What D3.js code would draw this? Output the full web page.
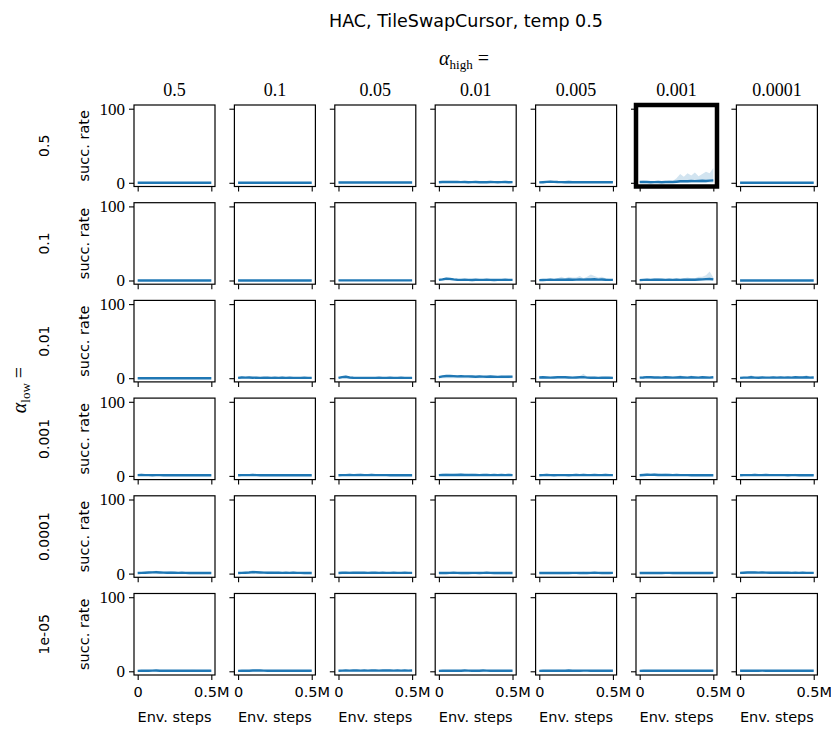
<!DOCTYPE html>
<html>
<head>
<meta charset="utf-8">
<script src="https://cdn.jsdelivr.net/npm/d3@7"></script>
<style>
  body { margin: 0; background: #fff; }
  text { fill: #000; }
</style>
</head>
<body>
<div id="chart"></div>
<script>
// grid labels
const alphaHigh = ["0.5", "0.1", "0.05", "0.01", "0.005", "0.001", "0.0001"];
const alphaLow = ["0.5", "0.1", "0.01", "0.001", "0.0001", "1e-05"];
const highlight = { row: 0, col: 5 };

// env steps (millions)
const stepsM = [0, 0.025, 0.05, 0.075, 0.1, 0.125, 0.15, 0.175, 0.2, 0.225, 0.25,
  0.275, 0.3, 0.325, 0.35, 0.375, 0.4, 0.425, 0.45, 0.475, 0.5];

const yTicks = [0, 100];
const xTicks = [0, 0.5];
const xTickLabels = ["0", "0.5M"];

// success rate, mean and upper band per panel (one array per alpha_low row)
const mean05 = [
  [0,0,0,0,0,0,0,0,0,0,0,0,0,0,0,0,0,0,0,0,0],
  [0,0,0,0,0,0,0,0,0,0,0,0,0,0,0,0,0,0,0,0,0],
  [0.3,0.4,0.3,0.3,0.4,0.3,0.3,0.3,0.4,0.3,0.3,0.3,0.3,0.4,0.3,0.3,0.3,0.3,0.3,0.3,0.3],
  [0.8,1,1.2,1.1,1,1,0.9,1,0.8,0.9,1,0.8,0.9,0.8,1,0.9,0.8,0.9,1,0.8,0.9],
  [0.5,0.8,1.2,1.5,1.3,1,0.9,0.8,1,0.8,0.9,0.8,0.8,0.9,0.8,0.8,0.9,0.8,0.8,0.9,0.8],
  [1,1.2,1,0.8,0.9,1,0.8,1,1.2,1,1.5,2,2.2,2,2.5,2.3,2.5,2.8,2.5,3,3.2],
  [0,0,0,0,0,0,0,0,0,0,0,0,0,0,0,0,0,0,0,0,0]
];
const up05 = [
  [0.3,0.3,0.3,0.3,0.3,0.3,0.3,0.3,0.3,0.3,0.3,0.3,0.3,0.3,0.3,0.3,0.3,0.3,0.3,0.3,0.3],
  [0.3,0.3,0.3,0.3,0.3,0.3,0.3,0.3,0.3,0.3,0.3,0.3,0.3,0.3,0.3,0.3,0.3,0.3,0.3,0.3,0.3],
  [0.8,1,0.8,0.9,1,0.8,0.8,0.9,1,0.8,0.8,0.9,0.8,1,0.8,0.8,0.9,0.8,0.8,0.9,0.8],
  [1.6,2,2.4,2,1.8,2,1.7,2,1.6,1.8,2,1.6,1.8,1.6,2,1.8,1.6,1.7,2,1.6,1.7],
  [1.2,1.6,2.2,2.8,2.4,2,1.7,1.6,1.9,1.6,1.7,1.6,1.6,1.7,1.6,1.6,1.7,1.6,1.6,1.7,1.6],
  [2,3,2.5,2,2,2.5,2,2,3,2.5,6,12,8,13,10,14,9,12,15,13,20],
  [0.3,0.3,0.3,0.3,0.3,0.3,0.3,0.3,0.3,0.3,0.3,0.3,0.3,0.3,0.3,0.3,0.3,0.3,0.3,0.3,0.3]
];

const mean01 = [
  [0,0,0,0,0,0,0,0,0,0,0,0,0,0,0,0,0,0,0,0,0],
  [0,0,0,0,0,0,0,0,0,0,0,0,0,0,0,0,0,0,0,0,0],
  [0.2,0.2,0.2,0.2,0.2,0.2,0.2,0.2,0.2,0.2,0.2,0.2,0.2,0.2,0.2,0.2,0.2,0.2,0.2,0.2,0.2],
  [0.8,1.5,2.5,2.2,1.5,1,0.8,1,0.8,0.7,1,0.8,0.8,1,0.8,0.7,0.9,0.8,1,0.8,0.8],
  [0.5,0.6,0.8,1,0.8,1,1.2,1,1.3,1,1.2,1.5,1.2,1.3,1.4,1.6,1.2,1.4,1,0.9,0.8],
  [0.5,0.8,1,0.8,1,1.2,1,0.8,1,0.9,1,0.8,1,1.2,1,1.1,1.3,1.5,1.8,2,1.5],
  [0,0,0,0,0,0,0,0,0,0,0,0,0,0,0,0,0,0,0,0,0]
];
const up01 = [
  [0.3,0.3,0.3,0.3,0.3,0.3,0.3,0.3,0.3,0.3,0.3,0.3,0.3,0.3,0.3,0.3,0.3,0.3,0.3,0.3,0.3],
  [0.3,0.3,0.3,0.3,0.3,0.3,0.3,0.3,0.3,0.3,0.3,0.3,0.3,0.3,0.3,0.3,0.3,0.3,0.3,0.3,0.3],
  [0.6,0.6,0.6,0.6,0.6,0.6,0.6,0.6,0.6,0.6,0.6,0.6,0.6,0.6,0.6,0.6,0.6,0.6,0.6,0.6,0.6],
  [1.5,2.8,4,3.5,2.5,2,1.6,2,1.6,1.4,2,1.6,1.6,2,1.6,1.4,1.8,1.6,2,1.6,1.6],
  [1,1.5,2,3,2,3,5,3,5,4,4,6,3,5,8,6,4,5,3,2,2],
  [1,2,2,2,3,3,2,2,2,2,3,2,3,4,3,3,5,5,7,12,4],
  [0.3,0.3,0.3,0.3,0.3,0.3,0.3,0.3,0.3,0.3,0.3,0.3,0.3,0.3,0.3,0.3,0.3,0.3,0.3,0.3,0.3]
];

const mean001 = [
  [0,0,0,0,0,0,0,0,0,0,0,0,0,0,0,0,0,0,0,0,0],
  [0.5,1,0.8,1,0.6,0.8,0.5,0.6,0.8,0.5,0.6,0.5,0.8,0.5,0.6,0.5,0.4,0.5,0.6,0.5,0.5],
  [0.5,1.5,2,1,0.6,0.5,0.5,0.4,0.5,0.5,0.4,0.5,0.4,0.4,0.5,0.4,0.4,0.5,0.4,0.4,0.4],
  [1.5,2.5,3,3,2.8,2.5,2.6,2.4,2.5,2.2,2,2.3,2.1,2,2.2,2,1.8,2,1.9,2,2.1],
  [1,1.2,1,0.8,1,1.2,1.5,1.2,1,0.8,1,1.2,1.5,0.8,0.6,0.8,0.5,0.6,0.8,0.6,0.5],
  [0.8,1,1.5,1.2,1,1,0.8,1.2,1,0.8,1,1.3,1,0.8,1.2,1,0.8,1.3,1,0.8,1.2],
  [0.5,0.8,0.8,1.2,0.8,0.6,1,0.8,0.8,1,0.8,1,0.8,1,0.8,1.2,0.9,1,1.2,0.8,1]
];
const up001 = [
  [0.3,0.3,0.3,0.3,0.3,0.3,0.3,0.3,0.3,0.3,0.3,0.3,0.3,0.3,0.3,0.3,0.3,0.3,0.3,0.3,0.3],
  [1.2,2.5,1.8,2.2,1.4,1.8,1.2,1.4,1.8,1.2,1.4,1.2,2.5,1.2,1.4,1.2,1,1.2,1.4,1.2,1.2],
  [1,3,3.5,2,1.3,1,1,0.9,1,1,0.9,1,0.9,0.9,1,0.9,0.9,1,0.9,0.9,0.9],
  [2.5,3.5,4,4,4.2,3.5,3.6,3.4,4,3.2,3,3.5,3.1,3,3.4,3,2.8,3.4,2.9,3.5,3.2],
  [2,2,2,1.5,2,2.5,3,2.5,2,2,2,3,6,2,1.5,2,1.5,1.5,2,1.5,1],
  [1.8,2.5,3,2.4,2,2,1.8,3,2.4,1.8,2,4,2.2,1.8,3.5,2,1.8,3,2.2,1.8,2.5],
  [1.2,1.8,1.6,4,1.8,1.4,2,1.8,1.6,2.5,1.8,2.2,1.8,2.4,1.8,3,2,2.4,4,1.8,2.2]
];

const mean0001 = [
  [1,1.2,1,1.1,0.9,1,1,0.9,1,0.8,0.9,1,0.8,0.9,0.8,0.8,0.9,0.8,0.8,0.8,0.8],
  [0.8,1,1.1,1,1.2,1,0.9,1,0.9,0.8,0.9,1,0.8,0.9,0.8,0.8,0.9,0.8,0.9,0.8,0.8],
  [0.8,1,1,1.2,1,1.1,1.3,1.1,1,1.2,1,1.1,1,1,0.9,1,0.9,0.8,0.9,0.8,0.9],
  [1,1.3,1.2,1.4,1.3,1.2,1.5,1.3,1.2,1.3,1.2,1.1,1.2,1.3,1.1,1.2,1.1,1.2,1.1,1.2,1.1],
  [0.8,1,1.2,1,0.9,1,1.1,1,0.9,1,1.2,1,1.3,1.1,1,1.2,1,1.1,1.2,1,1.1],
  [0.8,1.2,1.5,1.4,1.6,1.3,1.2,1.4,1.2,1.1,1.2,1,1.1,1,0.9,1,0.9,1,0.9,0.9,0.9],
  [0.8,1,1.1,1,1.2,1,1.1,1.2,1,1.1,1,1.1,1,0.9,1,1.1,0.9,1,0.9,1,0.9]
];
const up0001 = [
  [2,3,2.2,2.4,2,2.2,2,2,2.4,1.8,2,2.2,1.8,2,1.8,1.8,2,1.8,1.8,1.8,1.8],
  [1.8,2.4,2.6,2.2,2.8,2.2,2,2.4,2,1.8,2,2.2,1.8,2,1.8,1.8,2,1.8,2,1.8,1.8],
  [1.8,2.2,2.2,2.8,2.2,3.5,3,2.5,2.2,2.8,2.2,2.4,2.2,2.2,2,2.2,2,1.8,2,1.8,2],
  [2.2,2.8,3.5,3,2.8,3.5,3.4,2.8,2.6,3,2.6,2.4,2.6,2.8,2.4,2.6,2.4,2.6,2.4,2.8,2.4],
  [1.8,2.2,2.8,2.2,2,2.2,2.4,2.2,2,2.2,2.8,2.2,3,2.4,2.2,2.6,2.2,2.4,3,2.2,2.4],
  [1.8,2.6,3.5,3.2,3.6,3,2.6,3.2,2.6,2.4,2.6,2.2,2.4,2.2,2,2.2,2,2.2,2,2,2],
  [1.8,2.2,2.4,2.2,2.8,2.2,2.4,2.6,2.2,2.4,2.2,2.4,2.2,2,2.2,2.8,2,2.2,2,2.6,2]
];

const mean00001 = [
  [0.8,1,1.2,1.4,1.6,1.8,1.5,1.3,1.2,1.1,1.3,1,1.1,1,0.9,1,0.9,1,0.9,1,0.9],
  [0.8,1,1.2,1.5,2,1.8,1.5,1.3,1.2,1.3,1.1,1.2,1,1.1,1,1.2,1,1,0.9,1,0.9],
  [0.9,1.1,1.2,1,1.3,1.2,1.1,1.2,1,1.1,1.2,1,1.1,1,1,1.1,1,1,1.1,1,1],
  [0.8,1,0.9,1,1.1,1,0.9,1,0.9,1,1,0.9,1,1.1,1,0.9,1,0.9,1,0.9,0.9],
  [0.8,0.9,1,0.9,0.9,1,0.9,1,0.9,1,1,0.9,1,0.9,1,1.1,1,0.9,1,0.9,1],
  [0.8,1,0.9,1,0.9,1,0.9,1,1,0.9,1,0.9,1,0.9,1,0.9,1,0.9,1,0.9,1],
  [1,1.2,1.4,1.6,1.5,1.3,1.4,1.3,1.2,1.1,1.3,1.2,1.1,1.2,1,1.1,1,1.1,1,1,1]
];
const up00001 = [
  [1.8,2.2,2.6,2.8,3.2,4,3,2.6,2.4,3.5,2.6,2,2.2,2,1.8,2,1.8,2,1.8,2,1.8],
  [1.8,2.2,2.6,3,4.5,3.6,3,2.6,2.4,2.6,2.2,2.4,2,2.2,2,3,2,2,1.8,2,1.8],
  [1.8,2.2,2.4,2.8,2.6,2.4,2.2,2.4,2,2.2,2.4,2,2.2,2,2,2.2,2,2,2.2,2,2],
  [1.6,2,1.8,2,2.2,2,1.8,2,1.8,2,2,1.8,2.2,2.6,2,1.8,2,1.8,2,1.8,1.8],
  [1.6,1.8,2,1.8,1.8,2,1.8,2,1.8,2,2.2,1.8,2.4,1.8,2.2,2.6,2.2,1.8,2,1.8,2],
  [1.6,2,1.8,2,1.8,2.2,1.8,2,2,1.8,2,1.8,2,1.8,2,1.8,2,1.8,2,1.8,2],
  [2,2.4,2.8,3.2,3,2.6,2.8,2.6,2.4,2.2,2.6,2.4,2.2,2.4,2,2.2,2,2.4,2,2,2]
];

const mean1e5 = [
  [0.6,0.8,0.9,0.8,0.9,1,0.8,0.9,0.8,0.7,0.8,0.7,0.8,0.7,0.8,0.9,0.8,0.7,0.8,0.7,0.8],
  [0.6,0.8,0.9,0.8,1,1.1,1,0.9,0.8,0.9,0.8,0.9,0.8,0.9,0.8,0.8,0.9,0.8,0.8,0.9,0.8],
  [0.8,0.9,1,0.9,1.1,1,0.9,1,0.9,1,1,0.9,1,1.1,1,0.9,1,0.9,1,0.9,1],
  [0.6,0.7,0.8,0.7,0.8,0.9,0.8,1,0.9,0.8,0.9,0.8,1,0.9,0.8,0.9,0.8,0.9,0.8,0.8,0.8],
  [0.6,0.7,0.8,0.7,0.8,0.8,0.9,0.8,1,0.8,0.9,0.8,0.9,0.9,0.8,0.9,0.8,0.9,0.8,0.9,0.8],
  [0.6,0.8,0.7,0.8,0.7,0.8,0.9,0.8,0.9,0.8,0.9,0.8,0.7,0.8,0.7,0.8,0.7,0.8,0.7,0.8,0.7],
  [0.7,0.8,0.9,0.8,0.9,0.8,0.9,0.8,0.9,0.8,0.9,0.8,0.9,0.8,0.9,0.8,0.9,0.8,0.9,0.8,0.8]
];
const up1e5 = [
  [1.4,1.6,1.8,1.6,2.2,2,1.6,1.8,1.6,1.4,1.6,1.4,1.6,1.4,1.6,2,1.6,1.4,1.6,1.4,1.6],
  [1.4,1.6,1.8,1.6,2.2,2.4,2,1.8,1.6,1.8,1.6,1.8,1.6,1.8,1.6,1.6,1.8,1.6,1.6,1.8,1.6],
  [1.6,1.8,2,1.8,2.2,2,1.8,2,1.8,2,2,1.8,2,2.4,2,1.8,2,1.8,2,1.8,2],
  [1.2,1.4,1.6,1.4,1.6,1.8,1.6,2,1.8,1.6,1.8,1.6,2,1.8,1.6,1.8,1.6,1.8,1.6,1.6,1.6],
  [1.2,1.4,1.6,1.4,1.6,1.6,1.8,1.6,2,1.6,1.8,1.6,1.8,1.8,1.6,1.8,1.6,1.8,1.6,1.8,1.6],
  [1.2,1.6,1.4,1.6,1.4,1.6,1.8,1.6,1.8,1.6,1.8,1.6,1.4,1.6,1.4,1.6,1.4,1.6,1.4,1.6,1.4],
  [1.4,1.6,1.8,1.6,1.8,1.6,1.8,1.6,1.8,1.6,1.8,1.6,1.8,1.6,1.8,1.6,1.8,1.6,1.8,1.6,1.6]
];

const meanRows = [mean05, mean01, mean001, mean0001, mean00001, mean1e5];
const upRows = [up05, up01, up001, up0001, up00001, up1e5];

const width = 831;
const height = 729;
const left0 = 134, top0 = 105;
const pw = 81, ph = 81.5;
const dx = 100.4, dy = 97.7;
const blue = "#1f77b4";
const serif = "'Liberation Serif', 'DejaVu Serif', serif";
const sans = "'DejaVu Sans', sans-serif";

const svg = d3.select("#chart")
  .append("svg")
  .attr("width", width)
  .attr("height", height);

const x = d3.scaleLinear().domain([-0.025, 0.525]).range([0, pw]);
const y = d3.scaleLinear().domain([-5, 105]).range([ph, 0]);

const line = d3.line()
  .x((d, i) => x(stepsM[i]))
  .y(d => y(d));

const area = d3.area()
  .x((d, i) => x(stepsM[i]))
  .y0(y(0))
  .y1(d => y(d));

// title
svg.append("text")
  .attr("x", 466)
  .attr("y", 27)
  .attr("text-anchor", "middle")
  .attr("font-family", sans)
  .attr("font-size", "17.5px")
  .text("HAC, TileSwapCursor, temp 0.5");

// alpha_high =
const ah = svg.append("text")
  .attr("x", 464)
  .attr("y", 65)
  .attr("text-anchor", "middle")
  .attr("font-family", serif)
  .attr("font-size", "20px");
ah.append("tspan").attr("font-style", "italic").text("α");
ah.append("tspan").attr("font-size", "13px").attr("dy", 4).text("high");
ah.append("tspan").attr("dy", -4).text(" =");

// alpha_low =
const al = svg.append("text")
  .attr("transform", `translate(26, 390) rotate(-90)`)
  .attr("text-anchor", "middle")
  .attr("font-family", serif)
  .attr("font-size", "20px");
al.append("tspan").attr("font-style", "italic").text("α");
al.append("tspan").attr("font-size", "13px").attr("dy", 4).text("low");
al.append("tspan").attr("dy", -4).text(" =");

alphaLow.forEach((lowLabel, r) => {
  alphaHigh.forEach((highLabel, c) => {
    const g = svg.append("g")
      .attr("transform", `translate(${left0 + c * dx}, ${top0 + r * dy})`);

    g.append("path")
      .datum(upRows[r][c])
      .attr("d", area)
      .attr("fill", blue)
      .attr("fill-opacity", 0.2);

    g.append("path")
      .datum(meanRows[r][c])
      .attr("d", line)
      .attr("fill", "none")
      .attr("stroke", blue)
      .attr("stroke-width", 2.4);

    // y axis
    const ya = g.append("g")
      .call(d3.axisLeft(y).tickValues(yTicks).tickSize(5)
        .tickFormat(c === 0 ? d3.format("d") : () => ""));
    ya.select(".domain").remove();
    ya.selectAll("line").attr("stroke-width", 1.1);
    ya.selectAll("text")
      .attr("font-family", serif)
      .attr("font-size", "17px")
      .attr("x", -9);

    // x axis
    const xa = g.append("g")
      .attr("transform", `translate(0, ${ph})`)
      .call(d3.axisBottom(x).tickValues(xTicks).tickSize(5)
        .tickFormat(r === alphaLow.length - 1 ? (d, i) => xTickLabels[i] : () => ""));
    xa.select(".domain").remove();
    xa.selectAll("line").attr("stroke-width", 1.1);
    xa.selectAll("text")
      .attr("font-family", sans)
      .attr("font-size", "14.5px")
      .attr("y", 12);

    const isHi = r === highlight.row && c === highlight.col;
    g.append("rect")
      .attr("width", pw)
      .attr("height", ph)
      .attr("fill", "none")
      .attr("stroke", "#000")
      .attr("stroke-width", isHi ? 4.5 : 1.2);

    if (r === 0) {
      g.append("text")
        .attr("x", pw / 2)
        .attr("y", -9)
        .attr("text-anchor", "middle")
        .attr("font-family", serif)
        .attr("font-size", "18px")
        .text(highLabel);
    }
    if (r === alphaLow.length - 1) {
      g.append("text")
        .attr("x", pw / 2)
        .attr("y", ph + 47)
        .attr("text-anchor", "middle")
        .attr("font-family", sans)
        .attr("font-size", "14.5px")
        .text("Env. steps");
    }
    if (c === 0) {
      g.append("text")
        .attr("transform", `translate(-45, ${ph / 2}) rotate(-90)`)
        .attr("text-anchor", "middle")
        .attr("font-family", sans)
        .attr("font-size", "14.5px")
        .text("succ. rate");
      g.append("text")
        .attr("transform", `translate(-85, ${ph / 2}) rotate(-90)`)
        .attr("text-anchor", "middle")
        .attr("font-family", sans)
        .attr("font-size", "14px")
        .text(lowLabel);
    }
  });
});
</script>
</body>
</html>
